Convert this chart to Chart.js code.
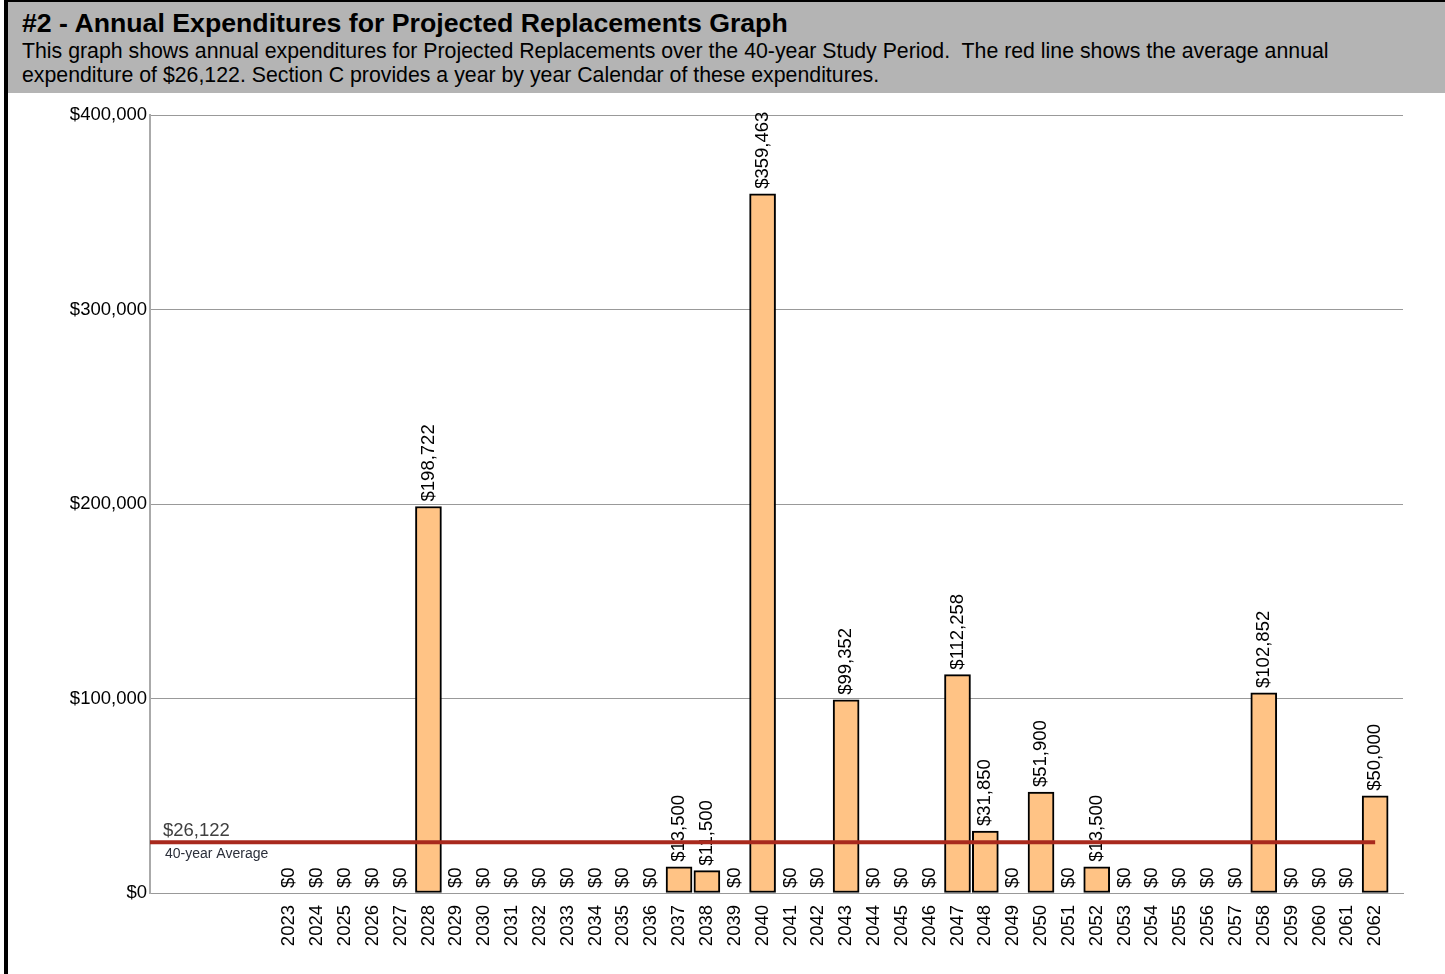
<!DOCTYPE html>
<html>
<head>
<meta charset="utf-8">
<script src="https://cdn.jsdelivr.net/npm/chart.js@4"></script>
<style>
  body { margin: 0; width: 1445px; height: 974px; overflow: hidden; background: #fff; font-family: "Liberation Sans", Arial, sans-serif; position: relative; }
  #edgeLeft { position: absolute; left: 4px; top: 0; width: 4px; height: 974px; background: #000; }
  #edgeTop { position: absolute; left: 4px; top: 0; width: 1441px; height: 2px; background: #000; }
  #header { position: absolute; left: 8px; top: 2px; width: 1437px; height: 91px; background: #b4b4b4; }
  #header h1 { position: absolute; left: 14px; top: 6px; margin: 0; font-size: 26.7px; font-weight: bold; line-height: 30px; color: #000; }
  #header p { position: absolute; left: 14px; top: 37px; margin: 0; font-size: 21.3px; line-height: 24px; color: #000; width: 1420px; }
  #wrap { position: absolute; left: 8px; top: 93px; width: 1437px; height: 881px; }
</style>
</head>
<body>
<div id="edgeLeft"></div>
<div id="edgeTop"></div>
<div id="header">
  <h1>#2 - Annual Expenditures for Projected Replacements Graph</h1>
  <p>This graph shows annual expenditures for Projected Replacements over the 40-year Study Period.&nbsp; The red line shows the average annual<br>expenditure of $26,122. Section C provides a year by year Calendar of these expenditures.</p>
</div>
<div id="wrap"><canvas id="grafico" width="1437" height="881"></canvas></div>
<script>
const years = [];
for (let y = 2023; y <= 2062; y++) years.push(String(y));

// annual expenditures, 2023..2062
const expenditures = [
    0, 0, 0, 0, 0, 198722, 0, 0, 0, 0,
    0, 0, 0, 0, 13500, 11500, 0, 359463, 0, 0,
    99352, 0, 0, 0, 112258, 31850, 0, 51900, 0, 13500,
    0, 0, 0, 0, 0, 102852, 0, 0, 0, 50000
];
const average = 26122;
const yTicks = [0, 100000, 200000, 300000, 400000];

// 5 empty slots before the first year, one after the last
const labels = ['', '', '', '', ''].concat(years, ['']);
const barData = [null, null, null, null, null].concat(expenditures, [null]);
const avgData = labels.map((l, i) => i < labels.length - 1 ? average : null);

const money = v => '$' + Number(v).toLocaleString('en-US');

Chart.defaults.font.family = '"Liberation Sans", Arial, sans-serif';
Chart.defaults.color = '#000';

const barLabels = {
    id: 'barLabels',
    beforeDatasetsDraw(chart) {
        const ctx = chart.ctx;
        const meta = chart.getDatasetMeta(1);
        ctx.save();
        ctx.font = '18.5px "Liberation Sans", Arial, sans-serif';
        ctx.fillStyle = '#000';
        ctx.textAlign = 'left';
        ctx.textBaseline = 'middle';
        meta.data.forEach((bar, i) => {
            const v = barData[i];
            if (v === null) return;
            ctx.save();
            ctx.translate(bar.x, bar.y - 5);
            ctx.rotate(-Math.PI / 2);
            ctx.fillText(money(v), 0, 0);
            ctx.restore();
        });
        ctx.restore();
    },
    afterDraw(chart) {
        const ctx = chart.ctx;
        const y = chart.scales.y.getPixelForValue(average);
        const x = chart.chartArea.left + 13;
        ctx.save();
        ctx.textAlign = 'left';
        ctx.textBaseline = 'alphabetic';
        ctx.fillStyle = '#404040';
        ctx.font = '18.5px "Liberation Sans", Arial, sans-serif';
        ctx.fillText(money(average), x, y - 6);
        ctx.fillStyle = '#2b2f3a';
        ctx.font = '14px "Liberation Sans", Arial, sans-serif';
        ctx.fillText('40-year Average', x + 2, y + 16);
        ctx.restore();
    }
};

new Chart(document.getElementById('grafico').getContext('2d'), {
    data: {
        labels: labels,
        datasets: [{
            type: 'line',
            data: avgData,
            borderColor: '#a8291d',
            borderWidth: 4,
            pointRadius: 0,
            order: 0
        }, {
            type: 'bar',
            data: barData,
            backgroundColor: '#ffc385',
            borderColor: '#000',
            borderWidth: 2,
            borderSkipped: false,
            barThickness: 26,
            order: 1
        }]
    },
    options: {
        responsive: false,
        animation: false,
        layout: { padding: { top: 22, right: 42, left: 0, bottom: 0 } },
        plugins: { legend: { display: false }, tooltip: { enabled: false } },
        scales: {
            x: {
                offset: false,
                grid: { display: false, drawTicks: false },
                border: { color: '#999', width: 1 },
                ticks: { autoSkip: false, minRotation: 90, maxRotation: 90, padding: 12, font: { size: 18.5 }, color: '#000' },
                afterFit(scale) { scale.height = 81; }
            },
            y: {
                min: 0,
                max: 400000,
                afterBuildTicks(scale) { scale.ticks = yTicks.map(v => ({ value: v })); },
                grid: { color: '#999', drawTicks: false },
                border: { color: '#aaa', width: 2 },
                ticks: { padding: 3, font: { size: 18.5 }, color: '#000', callback: v => money(v) },
                afterFit(scale) { scale.width = 142; }
            }
        }
    },
    plugins: [barLabels]
});
</script>
</body>
</html>
